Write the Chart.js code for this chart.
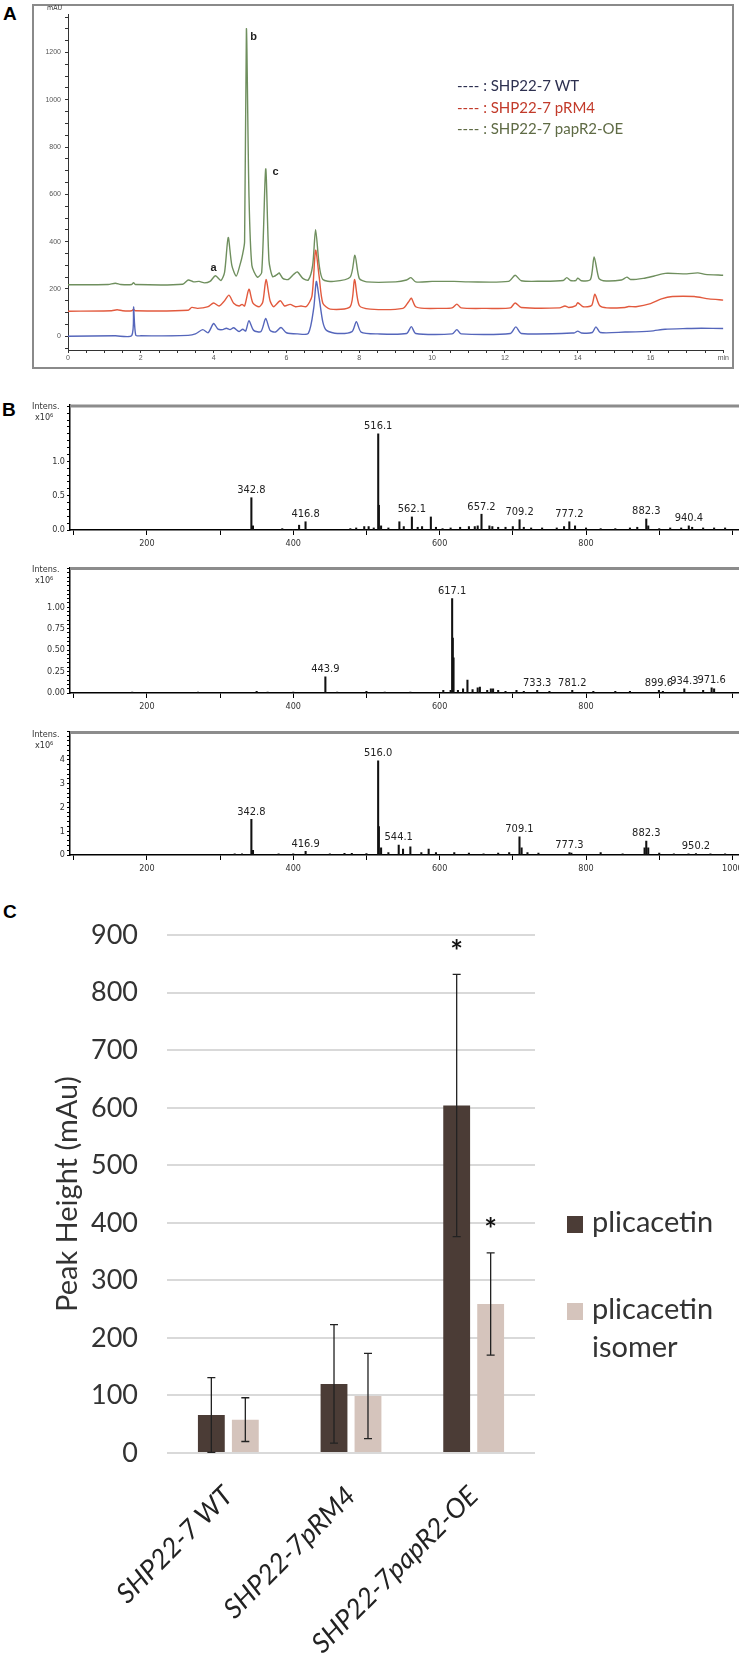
<!DOCTYPE html>
<html>
<head>
<meta charset="utf-8">
<script src="https://cdn.jsdelivr.net/npm/chart.js@4.4.0/dist/chart.umd.min.js"></script>
<style>
  body { margin: 0; background: #fff; width: 739px; height: 1667px; overflow: hidden; position: relative; font-family: "Liberation Sans", Arial, sans-serif; }
  canvas { position: absolute; }
  .t { position: absolute; white-space: nowrap; }
  .panel { font-weight: bold; font-size: 19px; color: #000; }
  .small { font-family: "Liberation Sans Narrow", "DejaVu Sans Condensed", sans-serif; font-size: 9px; color: #333; }
  .lg { font-family: Lato, sans-serif; font-size: 15px; }
  .lc { font-family: Lato, sans-serif; font-size: 29px; color: #333; }
</style>
</head>
<body>

<div class="t panel" style="left:3px;top:3px;">A</div>
<div class="t panel" style="left:2px;top:399px;">B</div>
<div class="t panel" style="left:3px;top:901px;">C</div>

<div style="position:absolute;left:32px;top:4px;width:698px;height:361px;border:2px solid #8a8a8a;"></div>
<canvas id="chromo" width="696" height="359" style="left:34px;top:6px;"></canvas>
<div class="t small" style="left:47px;top:4px;font-size:7px;">mAU</div>
<div class="t lg" style="left:457px;top:76px;color:#2d3050;">---- : SHP22-7 WT</div>
<div class="t lg" style="left:457px;top:98px;color:#c23a2a;">---- : SHP22-7 pRM4</div>
<div class="t lg" style="left:457px;top:119px;color:#5f6b45;">---- : SHP22-7 papR2-OE</div>

<canvas id="ms1" width="760" height="170" style="left:0;top:395px;"></canvas>
<canvas id="ms2" width="760" height="168" style="left:0;top:560px;"></canvas>
<canvas id="ms3" width="760" height="166" style="left:0;top:724px;"></canvas>
<div class="t small" style="left:32px;top:401px;">Intens.</div>
<div class="t small" style="left:35px;top:412px;">x10⁶</div>
<div class="t small" style="left:32px;top:564px;">Intens.</div>
<div class="t small" style="left:35px;top:575px;">x10⁶</div>
<div class="t small" style="left:32px;top:729px;">Intens.</div>
<div class="t small" style="left:35px;top:740px;">x10⁶</div>

<canvas id="bars" width="739" height="777" style="left:0;top:890px;"></canvas>
<div style="position:absolute;left:567px;top:1216px;width:16px;height:17px;background:#4b3c36;"></div>
<div class="t lc" style="left:592px;top:1203px;">plicacetin</div>
<div style="position:absolute;left:567px;top:1303px;width:16px;height:17px;background:#d5c4bc;"></div>
<div class="t lc" style="left:592px;top:1290px;">plicacetin</div>
<div class="t lc" style="left:592px;top:1328px;">isomer</div>

<script>
// ---------- Panel A: HPLC traces (time in min, mAU) ----------
const traceWT = [[0,0],[1.3,2],[1.75,3],[1.8,124],[1.86,5],[2.0,2],[3.3,4],[3.5,10],[3.7,28],[3.85,15],[4.0,54],[4.12,30],[4.25,28],[4.35,34],[4.45,28],[4.55,36],[4.7,20],[4.8,30],[4.88,22],[4.97,66],[5.1,25],[5.3,20],[5.43,75],[5.55,25],[5.7,18],[5.85,37],[6.0,15],[6.3,10],[6.6,12],[6.75,120],[6.82,232],[6.9,160],[7.0,60],[7.1,25],[7.4,12],[7.8,20],[7.92,62],[8.05,18],[8.5,10],[9.3,12],[9.43,41],[9.55,12],[10.55,10],[10.68,28],[10.8,10],[12.15,12],[12.3,40],[12.45,12],[13.9,14],[14.0,22],[14.1,14],[14.4,16],[14.5,40],[14.62,16],[15.3,18],[16,22],[16.4,30],[17,33],[17.4,34],[18,33]];
const tracePRM4 = [[0,106],[1.2,108],[1.35,112],[1.5,108],[1.75,108],[1.8,114],[1.85,108],[3.3,110],[3.4,122],[3.55,118],[3.7,120],[3.85,125],[4.0,141],[4.15,128],[4.3,150],[4.42,174],[4.55,140],[4.7,128],[4.78,135],[4.85,128],[4.97,199],[5.08,140],[5.25,125],[5.35,145],[5.44,240],[5.55,150],[5.65,125],[5.83,150],[5.95,128],[6.1,135],[6.25,125],[6.4,128],[6.55,126],[6.7,170],[6.8,364],[6.9,250],[7.0,140],[7.2,115],[7.75,125],[7.87,240],[8.0,130],[8.3,115],[9.2,118],[9.35,145],[9.43,161],[9.55,125],[9.8,118],[10.2,118],[10.55,120],[10.68,136],[10.8,120],[11.5,118],[12.15,120],[12.28,141],[12.45,122],[13.5,120],[13.65,128],[13.75,122],[13.95,130],[14.0,142],[14.15,125],[14.38,130],[14.47,178],[14.6,130],[14.8,120],[15.3,122],[15.4,126],[15.6,125],[16,138],[16.3,158],[16.6,168],[17.2,168],[17.6,158],[18,153]];
const tracePapR2 = [[0,218],[1.1,219],[1.3,224],[1.45,219],[1.75,219],[1.8,227],[1.85,219],[3.15,220],[3.3,238],[3.45,230],[3.6,232],[3.75,226],[3.9,232],[4.05,256],[4.2,236],[4.3,270],[4.4,418],[4.5,300],[4.62,255],[4.72,300],[4.8,350],[4.85,400],[4.9,1300],[4.97,600],[5.05,300],[5.2,250],[5.32,270],[5.43,708],[5.52,320],[5.62,252],[5.75,262],[5.8,268],[5.9,245],[6.05,240],[6.2,262],[6.3,272],[6.45,245],[6.6,238],[6.72,300],[6.8,451],[6.9,300],[7.0,240],[7.3,232],[7.75,250],[7.88,343],[8.0,245],[8.2,230],[9.0,230],[9.3,238],[9.42,248],[9.55,230],[10.0,232],[10.6,232],[11,230],[12.1,232],[12.28,258],[12.45,235],[13,233],[13.6,236],[13.7,248],[13.8,236],[13.95,236],[14.0,246],[14.1,235],[14.35,240],[14.45,335],[14.58,245],[14.7,235],[15.2,238],[15.35,250],[15.45,240],[15.8,245],[16.1,255],[16.4,266],[17,264],[17.3,268],[17.5,262],[18,258]];
const tagText = ['a', 'b', 'c'];
const tagTime = [4.0, 5.1, 5.7];
const tagLevel = [290, 1265, 695];

// ---------- Panel B: mass spectra (m/z, intensity x10^6) ----------
const mz1 = [342.8,345,385,400,408,416.8,478,486,497,503,510,516.1,517,520,530,545,551,562.1,570,576,588,595,604,615,628,640,648,652,657.2,668,672,680,690,700,709.2,715,725,740,760,770,777.2,785,800,820,840,860,870,882.3,885,900,915,930,940.4,945,960,975,990];
const int1 = [0.47,0.06,0.02,0.01,0.07,0.12,0.02,0.03,0.05,0.05,0.03,1.40,0.36,0.06,0.03,0.12,0.05,0.19,0.04,0.05,0.19,0.04,0.02,0.03,0.04,0.05,0.05,0.06,0.23,0.06,0.05,0.04,0.04,0.05,0.15,0.04,0.03,0.03,0.03,0.05,0.12,0.06,0.03,0.02,0.02,0.03,0.04,0.16,0.06,0.02,0.03,0.03,0.06,0.04,0.03,0.03,0.03];
const labels1 = [342.8, 416.8, 516.1, 562.1, 657.2, 709.2, 777.2, 882.3, 940.4];

const mz2 = [180,270,350,365,400,443.9,460,500,525,560,605,615,617.1,618,619,625,632,638,645,652,655,665,670,673,680,690,705,715,733.3,750,781.2,810,840,860,899.6,905,934.3,960,971.6,975];
const int2 = [0.01,0.01,0.02,0.01,0.01,0.19,0.01,0.02,0.01,0.01,0.03,0.03,1.10,0.64,0.41,0.03,0.05,0.15,0.04,0.06,0.07,0.03,0.05,0.05,0.03,0.02,0.03,0.02,0.03,0.02,0.03,0.02,0.02,0.02,0.03,0.02,0.05,0.03,0.06,0.05];
const labels2 = [443.9, 617.1, 733.3, 781.2, 899.6, 934.3, 971.6];

const mz3 = [320,330,342.8,345,380,400,416.9,450,470,480,500,516.0,517,520,530,544.1,550,560,575,585,595,620,640,660,680,695,709.1,712,720,735,777.3,780,820,850,880,882.3,885,900,920,940,950.2,970,990];
const int3 = [0.05,0.05,1.50,0.20,0.05,0.05,0.15,0.05,0.07,0.07,0.06,3.96,1.20,0.30,0.10,0.42,0.25,0.34,0.10,0.25,0.10,0.10,0.08,0.05,0.08,0.10,0.76,0.30,0.10,0.08,0.10,0.08,0.10,0.05,0.30,0.59,0.30,0.08,0.05,0.05,0.06,0.05,0.05];
const labels3 = [342.8, 416.9, 516.0, 544.1, 709.1, 777.3, 882.3, 950.2];

// ---------- Panel C: peak heights (mAu) ----------
const strains = ['SHP22-7 WT', 'SHP22-7pRM4', 'SHP22-7papR2-OE'];
const plicacetin = [66, 120, 604];
const plicacetinErr = [65, 103, 228];
const isomer = [58, 99, 259];
const isomerErr = [38, 74, 89];
const plicacetinSig = [false, false, true];
const isomerSig = [false, false, true];

const toXY = arr => arr.map(p => ({x: p[0], y: p[1]}));

// A: peak letters
const tagPlugin = {
  id: 'tags',
  afterDatasetsDraw(chart) {
    const {ctx, scales: {x, y}} = chart;
    ctx.save();
    ctx.font = 'bold 11px "Liberation Sans", Arial, sans-serif';
    ctx.fillStyle = '#222';
    ctx.textAlign = 'center';
    ctx.textBaseline = 'middle';
    tagText.forEach((t, i) => ctx.fillText(t, x.getPixelForValue(tagTime[i]), y.getPixelForValue(tagLevel[i])));
    ctx.restore();
  }
};

new Chart(document.getElementById('chromo'), {
  type: 'line',
  data: {
    datasets: [
      {label: 'SHP22-7 WT', data: toXY(traceWT), borderColor: '#5566bb', borderWidth: 1.4},
      {label: 'SHP22-7 pRM4', data: toXY(tracePRM4), borderColor: '#e25a3e', borderWidth: 1.4},
      {label: 'SHP22-7 papR2-OE', data: toXY(tracePapR2), borderColor: '#6f8f5e', borderWidth: 1.4}
    ]
  },
  options: {
    responsive: false,
    animation: false,
    events: [],
    elements: {point: {radius: 0}, line: {tension: 0.25}},
    layout: {padding: {top: 1, right: 1, left: 0, bottom: 0}},
    plugins: {legend: {display: false}, tooltip: {enabled: false}},
    scales: {
      x: {
        type: 'linear', min: 0, max: 18,
        afterFit: s => { s.height = 15; },
        border: {color: '#333', width: 1},
        grid: {drawOnChartArea: false, tickLength: 3, color: '#333'},
        ticks: {
          stepSize: 0.5, autoSkip: false, maxRotation: 0, padding: 1,
          font: {size: 7}, color: '#555',
          callback: v => (v % 2 === 0 ? (v === 18 ? 'min' : String(v)) : '')
        }
      },
      y: {
        min: -58, max: 1362,
        afterFit: s => { s.width = 34; },
        border: {color: '#333', width: 1},
        grid: {drawOnChartArea: false, tickLength: 3, color: '#333'},
        ticks: {
          stepSize: 50, includeBounds: false, autoSkip: false, padding: 4,
          font: {size: 7}, color: '#555',
          callback: v => (v % 200 === 0 && v >= 0 ? String(v) : '')
        }
      }
    }
  },
  plugins: [tagPlugin]
});

// B: spectra
const frameTop = {
  id: 'frameTop',
  beforeDatasetsDraw(chart) {
    const {ctx, chartArea: a} = chart;
    ctx.save();
    ctx.strokeStyle = '#8c8c8c';
    ctx.lineWidth = 3;
    ctx.beginPath();
    ctx.moveTo(a.left, a.top + 1);
    ctx.lineTo(a.right, a.top + 1);
    ctx.stroke();
    ctx.restore();
  }
};

const peakLabelPlugin = {
  id: 'peakLabels',
  afterDatasetsDraw(chart, args, opts) {
    const {ctx, scales: {x, y}} = chart;
    const mz = opts.mz, inten = opts.inten;
    ctx.save();
    ctx.font = '11px "Liberation Sans Narrow", "DejaVu Sans Condensed", sans-serif';
    ctx.fillStyle = '#222';
    ctx.textAlign = 'center';
    ctx.textBaseline = 'bottom';
    opts.labels.forEach(m => {
      const i = mz.indexOf(m);
      ctx.fillText(m.toFixed(1), x.getPixelForValue(m), y.getPixelForValue(inten[i]) - 2);
    });
    ctx.restore();
  }
};

function spectrum(id, mz, inten, labels, ymax, yStep, yLabelStep, yLabelMax, yDigits, topPad, showEnd) {
  new Chart(document.getElementById(id), {
    type: 'bar',
    data: {datasets: [{data: mz.map((m, i) => ({x: m, y: inten[i]})), backgroundColor: '#111', barThickness: 1.4}]},
    options: {
      responsive: false,
      animation: false,
      events: [],
      layout: {padding: {top: topPad, right: 21, left: 0, bottom: 0}},
      plugins: {legend: {display: false}, tooltip: {enabled: false}, peakLabels: {mz: mz, inten: inten, labels: labels}},
      scales: {
        x: {
          type: 'linear', min: 95, max: 1009, offset: false,
          afterFit: s => { s.height = 35; },
          border: {color: '#000', width: 1.5},
          grid: {drawOnChartArea: false, offset: false, tickLength: 5, color: '#000'},
          ticks: {
            stepSize: 100, includeBounds: false, autoSkip: false, maxRotation: 0, padding: 3,
            font: {size: 9, family: '"Liberation Sans Narrow", "DejaVu Sans Condensed", sans-serif'}, color: '#333',
            callback: v => ((v % 200 === 0 && v < 1000) || (v === 1000 && showEnd) ? String(v) : '')
          }
        },
        y: {
          min: 0, max: ymax,
          afterFit: s => { s.width = 70; },
          border: {color: '#000', width: 1.5},
          grid: {drawOnChartArea: false, tickLength: 3, color: '#000'},
          ticks: {
            stepSize: yStep, includeBounds: false, autoSkip: false, padding: 2,
            font: {size: 9, family: '"Liberation Sans Narrow", "DejaVu Sans Condensed", sans-serif'}, color: '#333',
            callback: v => {
              const r = v / yLabelStep;
              return Math.abs(r - Math.round(r)) < 1e-6 && v <= yLabelMax + 1e-6 ? v.toFixed(yDigits) : '';
            }
          }
        }
      }
    },
    plugins: [frameTop, peakLabelPlugin]
  });
}

spectrum('ms1', mz1, int1, labels1, 1.82, 0.1, 0.5, 1.0, 1, 10, false);
spectrum('ms2', mz2, int2, labels2, 1.465, 0.05, 0.25, 1.0, 2, 7, false);
spectrum('ms3', mz3, int3, labels3, 5.2, 0.2, 1, 4, 0, 7, true);

// C: bars with error bars
const errorBars = {
  id: 'errorBars',
  afterDatasetsDraw(chart) {
    const {ctx, scales: {y}} = chart;
    const sets = [[plicacetin, plicacetinErr, plicacetinSig], [isomer, isomerErr, isomerSig]];
    ctx.save();
    sets.forEach((s, di) => {
      const meta = chart.getDatasetMeta(di);
      s[0].forEach((v, i) => {
        const cx = meta.data[i].x;
        const hi = y.getPixelForValue(v + s[1][i]);
        const lo = y.getPixelForValue(Math.max(0, v - s[1][i]));
        ctx.strokeStyle = '#222';
        ctx.lineWidth = 1.3;
        ctx.beginPath();
        ctx.moveTo(cx, hi); ctx.lineTo(cx, lo);
        ctx.moveTo(cx - 4, hi); ctx.lineTo(cx + 4, hi);
        ctx.moveTo(cx - 4, lo); ctx.lineTo(cx + 4, lo);
        ctx.stroke();
        if (s[2][i]) {
          ctx.fillStyle = '#111';
          ctx.font = 'bold 30px Lato, sans-serif';
          ctx.textAlign = 'center';
          ctx.textBaseline = 'middle';
          ctx.fillText('*', cx, hi - 22);
        }
      });
    });
    ctx.restore();
  }
};

new Chart(document.getElementById('bars'), {
  type: 'bar',
  data: {
    labels: strains,
    datasets: [
      {label: 'plicacetin', data: plicacetin, backgroundColor: '#4b3c36'},
      {label: 'plicacetin isomer', data: isomer, backgroundColor: '#d5c4bc'}
    ]
  },
  options: {
    responsive: false,
    animation: false,
    events: [],
    categoryPercentage: 0.554,
    barPercentage: 0.79,
    layout: {padding: {top: 33, right: 204, left: 0, bottom: 0}},
    plugins: {legend: {display: false}, tooltip: {enabled: false}},
    scales: {
      x: {
        afterFit: s => { s.height = 214; },
        border: {display: false},
        grid: {display: false},
        ticks: {
          minRotation: 45, maxRotation: 45, autoSkip: false, padding: 19,
          font: {family: 'Lato, sans-serif', size: 27, style: 'italic'}, color: '#222'
        }
      },
      y: {
        min: 0, max: 900,
        afterFit: s => { s.width = 167; },
        border: {display: false},
        grid: {color: '#d9d9d9', lineWidth: 2, drawTicks: false},
        title: {display: true, text: 'Peak Height (mAu)', font: {family: 'Lato, sans-serif', size: 29}, color: '#333', padding: {top: 50, bottom: 0}},
        ticks: {stepSize: 100, padding: 29, font: {family: 'Lato, sans-serif', size: 27}, color: '#333'}
      }
    }
  },
  plugins: [errorBars]
});
</script>
</body>
</html>
